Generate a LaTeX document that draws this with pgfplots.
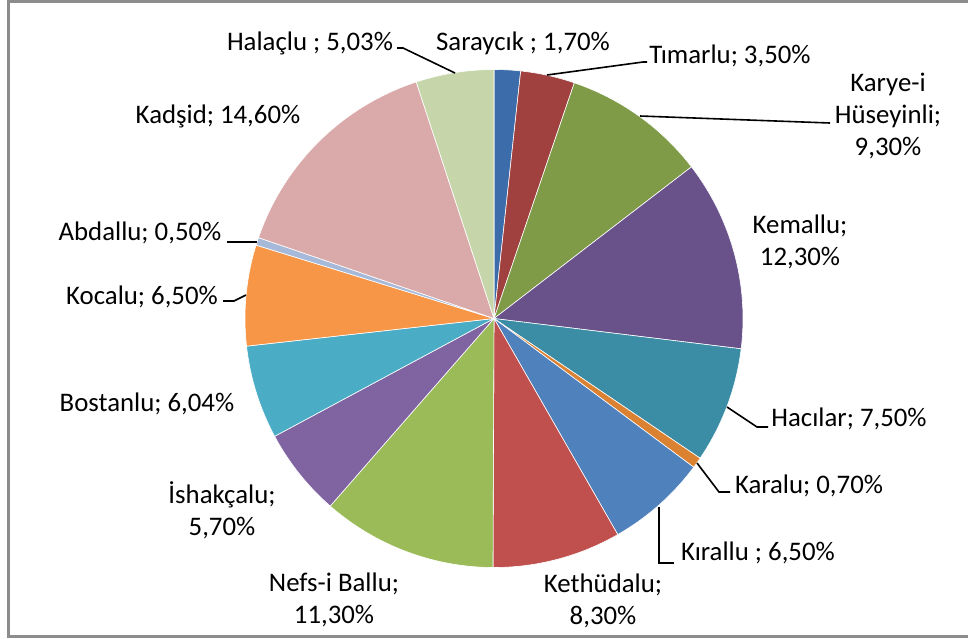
\documentclass[border=0pt]{standalone}
\usepackage{pgfplots}
\pgfplotsset{compat=1.18}
\usepackage{pgfplotstable}
\usepackage{fontspec}
\setmainfont{Carlito}

% slice colours, clockwise from 12 o'clock
\definecolor{c1}{HTML}{3D6CAB}
\definecolor{c2}{HTML}{A0413F}
\definecolor{c3}{HTML}{7F9B48}
\definecolor{c4}{HTML}{69528A}
\definecolor{c5}{HTML}{3A8DA5}
\definecolor{c6}{HTML}{DB8232}
\definecolor{c7}{HTML}{4F81BD}
\definecolor{c8}{HTML}{C0504D}
\definecolor{c9}{HTML}{9BBB59}
\definecolor{c10}{HTML}{8064A2}
\definecolor{c11}{HTML}{4BACC6}
\definecolor{c12}{HTML}{F79646}
\definecolor{c13}{HTML}{A7B9D9}
\definecolor{c14}{HTML}{D9AAA9}
\definecolor{c15}{HTML}{C6D6AA}
\definecolor{frame}{HTML}{8C8C8C}

\pgfplotstableread{
value col
1.70  c1
3.50  c2
9.30  c3
12.30 c4
7.50  c5
0.70  c6
6.50  c7
8.30  c8
11.30 c9
5.70  c10
6.04  c11
6.50  c12
0.50  c13
14.60 c14
5.03  c15
}\piedata

% number of rows and sum of the values
\pgfplotstablegetrowsof{\piedata}
\pgfmathtruncatemacro\nlast{\pgfplotsretval-1}
\def\total{0}
\pgfplotsforeachungrouped \i in {0,...,\nlast}{%
  \pgfplotstablegetelem{\i}{value}\of\piedata
  \pgfmathsetmacro\total{\total+\pgfplotsretval}}

\begin{document}
\begin{tikzpicture}[font=\fontsize{13.4}{16}\selectfont]
\begin{axis}[
  scale only axis,
  width=484pt, height=319pt,
  xmin=0, xmax=968, ymin=0, ymax=638,
  y dir=reverse,
  hide axis,
  clip=false,
]
% pie: centre (494,318.5), radius 249, in picture pixels
\def\cum{0}
\pgfplotsforeachungrouped \i in {0,...,\nlast}{%
  \pgfplotstablegetelem{\i}{value}\of\piedata \let\val\pgfplotsretval
  \pgfplotstablegetelem{\i}{col}\of\piedata \let\slicecol\pgfplotsretval
  \pgfmathsetmacro\aS{-90+360*(\cum/\total)}
  \pgfmathsetmacro\cum{\cum+\val}
  \pgfmathsetmacro\aE{-90+360*(\cum/\total)}
  \edef\temp{\noexpand\addplot[fill=\slicecol, draw=white, line width=0.3pt,
      domain=\aS:\aE, samples=80]
    ({494+249*cos(x)}, {318.5+249*sin(x)}) -- (axis cs:494,318.5) -- cycle;}
  \temp
}

% leader lines
\begin{scope}[line width=0.8pt]
\draw (axis cs:397,48) -- (axis cs:403,48) -- (axis cs:455,73);
\draw (axis cs:547,75) -- (axis cs:643,62) -- (axis cs:647,62);
\draw (axis cs:640,116) -- (axis cs:830,123);
\draw (axis cs:727,407) -- (axis cs:757,427) -- (axis cs:768,427);
\draw (axis cs:697,463) -- (axis cs:719,492) -- (axis cs:730,492);
\draw (axis cs:659,507) -- (axis cs:659,563) -- (axis cs:674,563);
\draw (axis cs:246,295) -- (axis cs:234,301) -- (axis cs:223,301);
\draw (axis cs:257,242) -- (axis cs:227,242);
\end{scope}

% data labels
\node at (axis cs:310,43) {Halaçlu ; 5,03\%};
\node at (axis cs:523,43) {Saraycık ; 1,70\%};
\node at (axis cs:730,56) {Tımarlu; 3,50\%};
\node[align=center] at (axis cs:888,116) {Karye-i\\Hüseyinli;\\9,30\%};
\node[align=center] at (axis cs:800,242) {Kemallu;\\12,30\%};
\node at (axis cs:849,419) {Hacılar; 7,50\%};
\node at (axis cs:809,486) {Karalu; 0,70\%};
\node at (axis cs:758,553) {Kırallu ; 6,50\%};
\node[align=center] at (axis cs:603,601) {Kethüdalu;\\8,30\%};
\node[align=center] at (axis cs:334,600) {Nefs-i Ballu;\\11,30\%};
\node[align=center] at (axis cs:222,510) {İshakçalu;\\5,70\%};
\node at (axis cs:147,404) {Bostanlu; 6,04\%};
\node at (axis cs:142,297) {Kocalu; 6,50\%};
\node at (axis cs:140,233) {Abdallu; 0,50\%};
\node at (axis cs:218,116) {Kadşid; 14,60\%};

% chart frame (left, top, bottom edges visible)
\draw[frame, line width=1.5pt] (axis cs:968,1) -- (axis cs:8,1) -- (axis cs:8,636) -- (axis cs:968,636);
\end{axis}
\pgfresetboundingbox
\path (current axis.south west) rectangle (current axis.north east);
\end{tikzpicture}
\end{document}
